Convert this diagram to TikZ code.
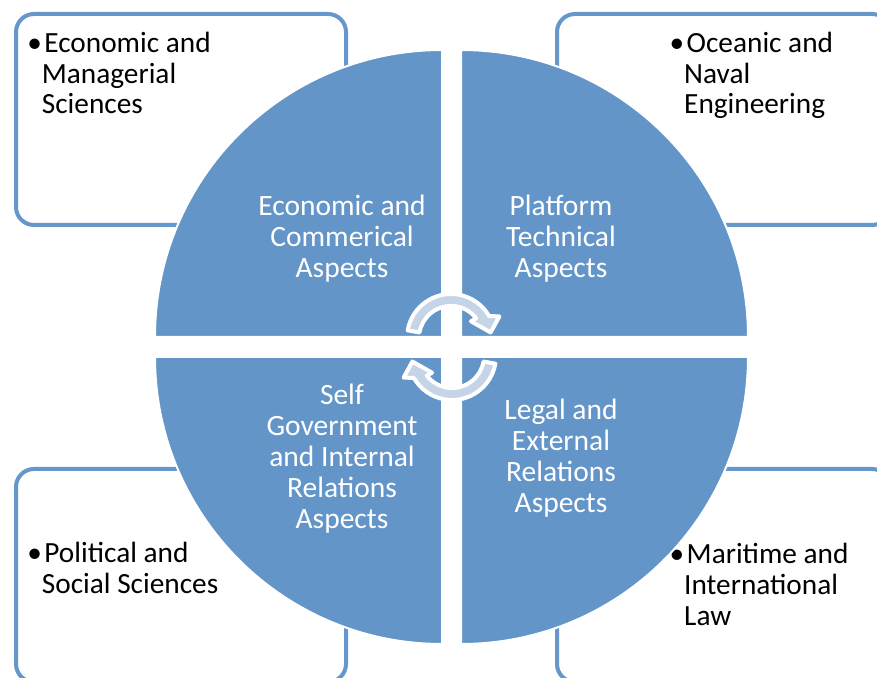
\documentclass[tikz,border=0pt]{standalone}
\usepackage{fontspec}
\setmainfont{Carlito}
\usepackage{tikz}
\definecolor{quadblue}{RGB}{99,149,200}
\definecolor{boxblue}{RGB}{101,151,204}
\definecolor{cyclefill}{RGB}{198,212,232}

\begin{document}
\begin{tikzpicture}[x=1pt, y=1pt,
    fieldbox/.style={draw=boxblue, line width=4pt, rounded corners=18pt, fill=white},
    quarter/.style={fill=quadblue, draw=white, line width=2pt},
    cyclearrow/.style={fill=cyclefill, draw=white, line width=4pt, line join=round},
    aspect/.style={white, align=center, font=\fontsize{29.5}{31}\selectfont, inner sep=0pt, anchor=base},
    field/.style={black, align=left, font=\fontsize{29.3}{30.6}\selectfont, inner sep=0pt, anchor=base west}]
  \useasboundingbox (0,0) rectangle (877,677);
  % corner boxes
  \draw[fieldbox] (16,663) rectangle (346,452);
  \draw[fieldbox] (557,663) rectangle (890,452);
  \draw[fieldbox] (16,208) rectangle (346,-5);
  \draw[fieldbox] (557,208) rectangle (890,-5);
  \node[field] (econsci) at (41.7,563) {\llap{•}\hspace{2.5pt}Economic and\\Managerial\\Sciences};
  \node[field] (navaleng) at (684,563) {\llap{•}\hspace{2.5pt}Oceanic and\\Naval\\Engineering};
  \node[field] (polsci) at (41.7,83.7) {\llap{•}\hspace{2.5pt}Political and\\Social Sciences};
  \node[field] (marlaw) at (684,52) {\llap{•}\hspace{2.5pt}Maritime and\\International\\Law};
  % quarters of the circle
  \draw[quarter] (442,340) -- (155,340) arc[start angle=180, end angle=90, radius=287] -- cycle;
  \draw[quarter] (461,340) -- (461,627) arc[start angle=90, end angle=0, radius=287] -- cycle;
  \draw[quarter] (442,320) -- (442,33) arc[start angle=270, end angle=180, radius=287] -- cycle;
  \draw[quarter] (461,320) -- (748,320) arc[start angle=0, end angle=-90, radius=287] -- cycle;
  \node[aspect] (econ) at (342,399) {Economic and\\Commerical\\Aspects};
  \node[aspect] (tech) at (561,399) {Platform\\Technical\\Aspects};
  \node[aspect] (gov) at (342,148) {Self\\Government\\and Internal\\Relations\\Aspects};
  \node[aspect] (legal) at (561,164) {Legal and\\External\\Relations\\Aspects};
  % cycle arrows
  \begin{scope}[shift={(451,339)}]
    \draw[cyclearrow] (170:32) -- (170:44) arc[start angle=170, end angle=30, radius=44]
      -- (24:53) -- (8:40) -- (40:26) -- (38:32) arc[start angle=38, end angle=170, radius=32] -- cycle;
  \end{scope}
  \begin{scope}[shift={(452,321)}, rotate=180]
    \draw[cyclearrow] (170:32) -- (170:44) arc[start angle=170, end angle=30, radius=44]
      -- (24:53) -- (8:40) -- (40:26) -- (38:32) arc[start angle=38, end angle=170, radius=32] -- cycle;
  \end{scope}
\end{tikzpicture}
\end{document}
